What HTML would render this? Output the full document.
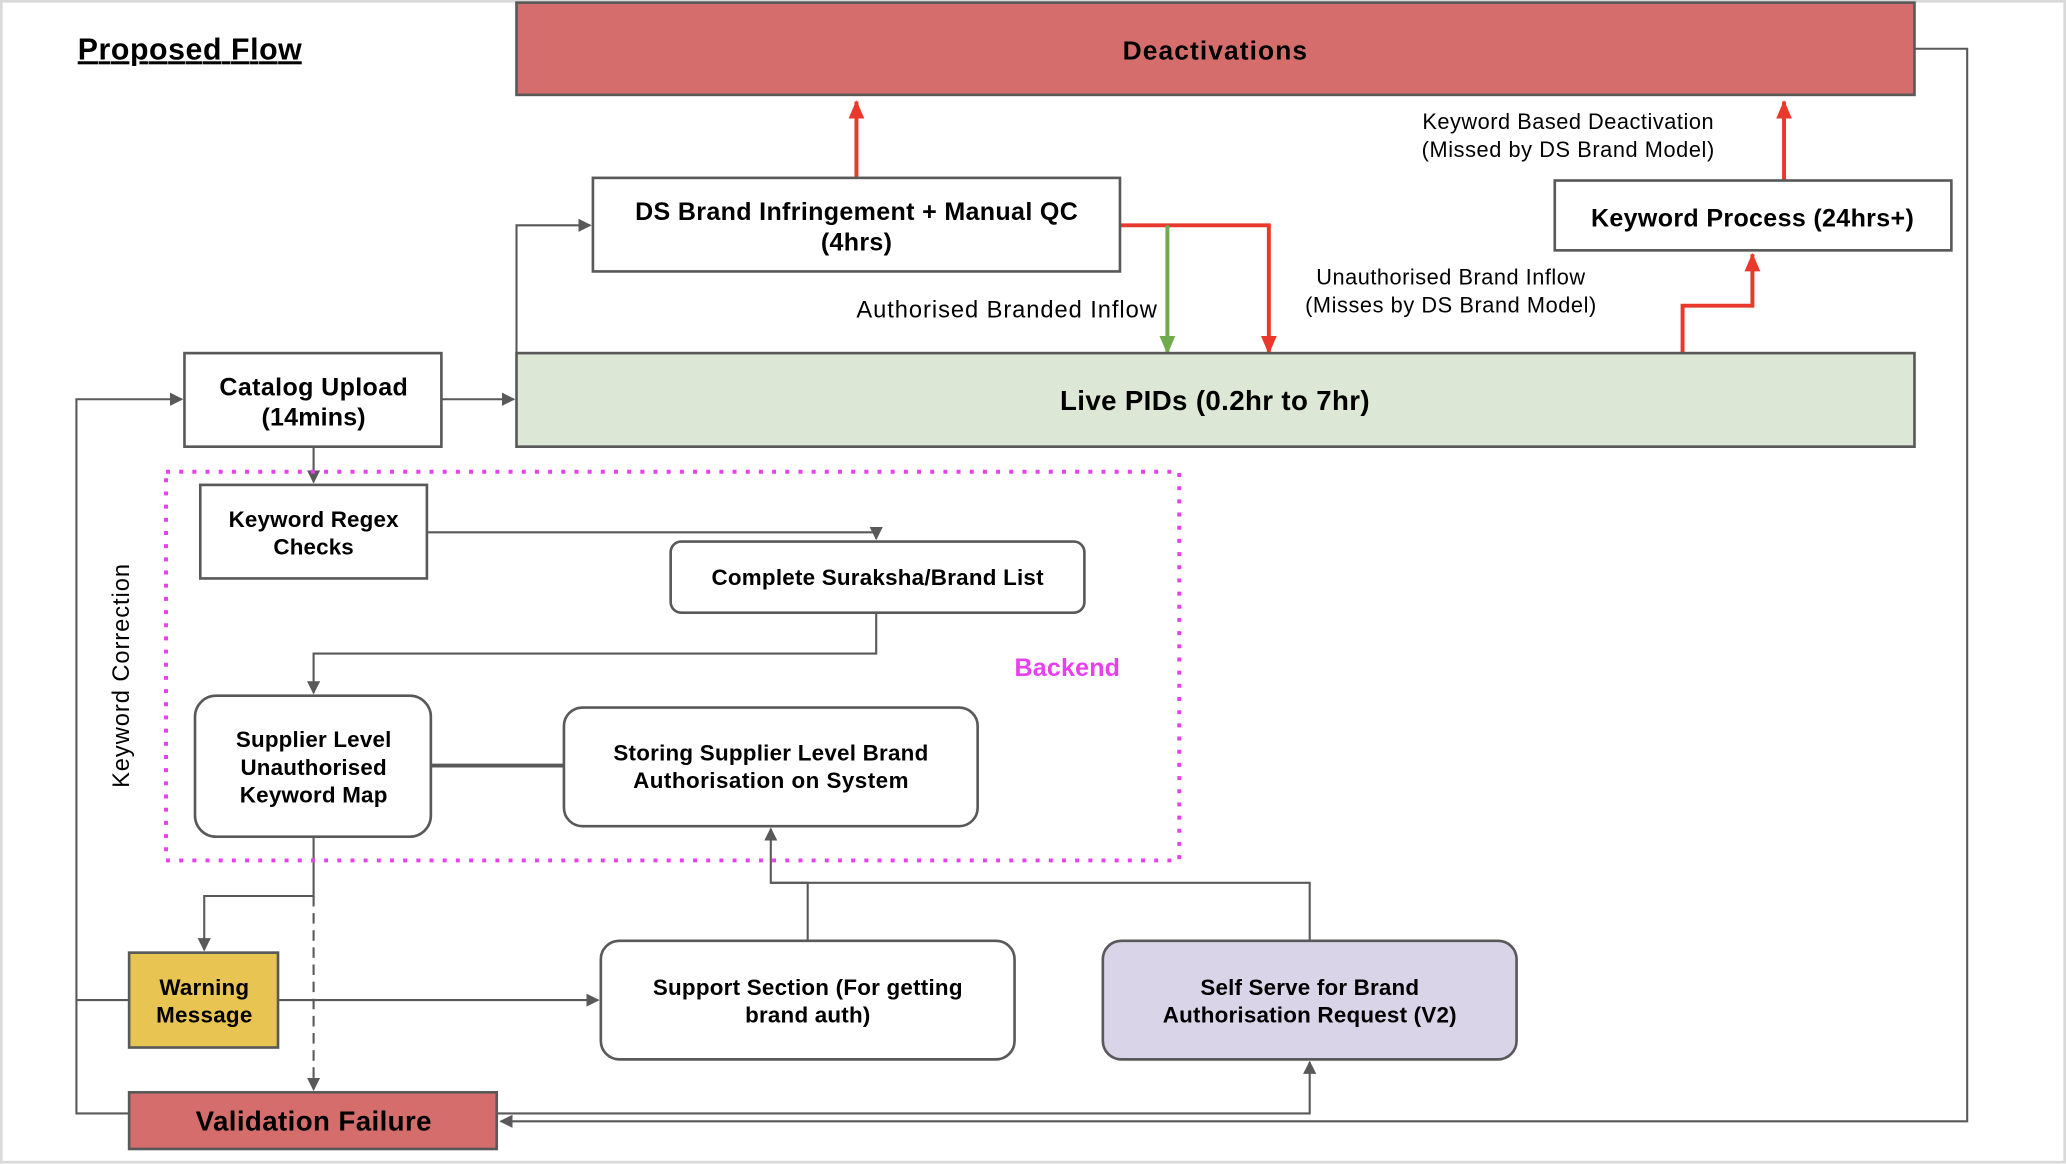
<!DOCTYPE html>
<html><head><meta charset="utf-8"><style>
html,body{margin:0;padding:0;background:#fff;}
svg{display:block;}
text{font-family:"Liberation Sans",Arial,sans-serif;}
.b{font-weight:bold;}
</style></head><body>
<svg width="2066" height="1164" viewBox="0 0 1568 883.4" preserveAspectRatio="none" xmlns="http://www.w3.org/2000/svg">
<defs>
<marker id="ag" markerWidth="10" markerHeight="10" refX="9" refY="5" orient="auto" markerUnits="userSpaceOnUse"><path d="M0,0 L10,5 L0,10 z" fill="#595959"/></marker>
<marker id="ar" markerWidth="14" markerHeight="14" refX="13" refY="7" orient="auto" markerUnits="userSpaceOnUse"><path d="M0,1 L14,7 L0,13 z" fill="#e8392c"/></marker>
<marker id="agr" markerWidth="14" markerHeight="14" refX="13" refY="7" orient="auto" markerUnits="userSpaceOnUse"><path d="M0,1 L14,7 L0,13 z" fill="#72ab4f"/></marker>
</defs>
<rect x="1" y="1" width="1566" height="881" fill="#fff" stroke="#d9d9d9" stroke-width="2"/>
<text x="59" y="45" class="b" font-size="23" textLength="170" lengthAdjust="spacing" text-decoration="underline">Proposed Flow</text>

<g stroke="#595959" stroke-width="1.6" fill="none">
<polyline points="392,268 392,171 448,171" marker-end="url(#ag)"/>
<line x1="335" y1="303" x2="390" y2="303" marker-end="url(#ag)"/>
<polyline points="98,845 58,845 58,303 138,303" marker-end="url(#ag)"/>
<line x1="58" y1="759" x2="98" y2="759"/>
<polyline points="1453,37 1493,37 1493,851 380,851" marker-end="url(#ag)"/>
<polyline points="377,845 994,845 994,806" marker-end="url(#ag)"/>
<line x1="238" y1="339" x2="238" y2="366" marker-end="url(#ag)"/>
<polyline points="324,404 665,404 665,409" marker-end="url(#ag)"/>
<polyline points="665,465 665,496 238,496 238,526" marker-end="url(#ag)"/>
<line x1="327" y1="581" x2="428" y2="581" stroke-width="3"/>
<polyline points="238,635 238,680 155,680 155,721" marker-end="url(#ag)"/>
<line x1="238" y1="680" x2="238" y2="827" stroke-dasharray="8,5" marker-end="url(#ag)"/>
<line x1="211" y1="759" x2="454" y2="759" marker-end="url(#ag)"/>
<polyline points="613,714 613,670 585,670 585,629" marker-end="url(#ag)"/>
<polyline points="994,714 994,670 585,670"/>
</g>
<g stroke-width="3" fill="none">
<line x1="650" y1="135" x2="650" y2="77" stroke="#e8392c" marker-end="url(#ar)"/>
<line x1="1354" y1="137" x2="1354" y2="77" stroke="#e8392c" marker-end="url(#ar)"/>
<polyline points="850,171 963,171 963,268" stroke="#e8392c" marker-end="url(#ar)"/>
<line x1="886" y1="171" x2="886" y2="268" stroke="#72ab4f" marker-end="url(#agr)"/>
<polyline points="1277,268 1277,232 1330,232 1330,193" stroke="#e8392c" marker-end="url(#ar)"/>
</g>

<g stroke="#595959" stroke-width="2">
<rect x="392" y="2" width="1061" height="70" fill="#d46d6b"/>
<rect x="450" y="135" width="400" height="71" fill="#fff"/>
<rect x="1180" y="137" width="301" height="53" fill="#fff"/>
<rect x="140" y="268" width="195" height="71" fill="#fff"/>
<rect x="392" y="268" width="1061" height="71" fill="#dce8d5"/>
<rect x="152" y="368" width="172" height="71" fill="#fff"/>
<rect x="509" y="411" width="314" height="54" rx="8" fill="#fff"/>
<rect x="148" y="528" width="179" height="107" rx="16" fill="#fff"/>
<rect x="428" y="537" width="314" height="90" rx="14" fill="#fff"/>
<rect x="98" y="723" width="113" height="72" fill="#e8c452"/>
<rect x="456" y="714" width="314" height="90" rx="14" fill="#fff"/>
<rect x="837" y="714" width="314" height="90" rx="14" fill="#d9d4e8"/>
<rect x="98" y="829" width="279" height="43" fill="#d46d6b"/>
</g>
<rect x="126" y="358" width="769" height="295" fill="none" stroke="#e83ff0" stroke-width="3" stroke-dasharray="3,7"/>

<g text-anchor="middle" fill="#000" lengthAdjust="spacing">
<text x="922" y="45" class="b" font-size="20" textLength="140">Deactivations</text>
<text x="650" y="167" class="b" font-size="19" textLength="336">DS Brand Infringement + Manual QC</text>
<text x="650" y="190" class="b" font-size="19" textLength="54">(4hrs)</text>
<text x="1330" y="172" class="b" font-size="19" textLength="245">Keyword Process (24hrs+)</text>
<text x="238" y="300" class="b" font-size="19" textLength="143">Catalog Upload</text>
<text x="238" y="323" class="b" font-size="19" textLength="79">(14mins)</text>
<text x="922" y="311" class="b" font-size="21" textLength="235">Live PIDs (0.2hr to 7hr)</text>
<text x="238" y="400" class="b" font-size="17" textLength="129">Keyword Regex</text>
<text x="238" y="421" class="b" font-size="17" textLength="61">Checks</text>
<text x="666" y="444" class="b" font-size="17" textLength="252">Complete Suraksha/Brand List</text>
<text x="238" y="567" class="b" font-size="17" textLength="118">Supplier Level</text>
<text x="238" y="588" class="b" font-size="17" textLength="111">Unauthorised</text>
<text x="238" y="609" class="b" font-size="17" textLength="112">Keyword Map</text>
<text x="585" y="577" class="b" font-size="17" textLength="239">Storing Supplier Level Brand</text>
<text x="585" y="598" class="b" font-size="17" textLength="209">Authorisation  on System</text>
<text x="155" y="755" class="b" font-size="17" textLength="68">Warning</text>
<text x="155" y="776" class="b" font-size="17" textLength="73">Message</text>
<text x="613" y="755" class="b" font-size="17" textLength="235">Support Section (For getting</text>
<text x="613" y="776" class="b" font-size="17" textLength="95">brand auth)</text>
<text x="994" y="755" class="b" font-size="17" textLength="166">Self Serve for Brand</text>
<text x="994" y="776" class="b" font-size="17" textLength="223">Authorisation Request (V2)</text>
<text x="238" y="858" class="b" font-size="21" textLength="179">Validation Failure</text>
<text x="810" y="513" class="b" font-size="19" fill="#e83ff0" textLength="80">Backend</text>
<text x="764" y="241" font-size="18" textLength="228">Authorised Branded Inflow</text>
<text x="1101" y="216" font-size="16.5" textLength="204">Unauthorised Brand Inflow</text>
<text x="1101" y="237" font-size="16.5" textLength="221">(Misses by DS Brand Model)</text>
<text x="1190" y="98" font-size="16.5" textLength="221">Keyword Based Deactivation</text>
<text x="1190" y="119" font-size="16.5" textLength="222">(Missed by DS Brand Model)</text>
<text x="0" y="0" font-size="18" textLength="170" transform="translate(98,513) rotate(-90)">Keyword Correction</text>
</g>
</svg>
</body></html>
